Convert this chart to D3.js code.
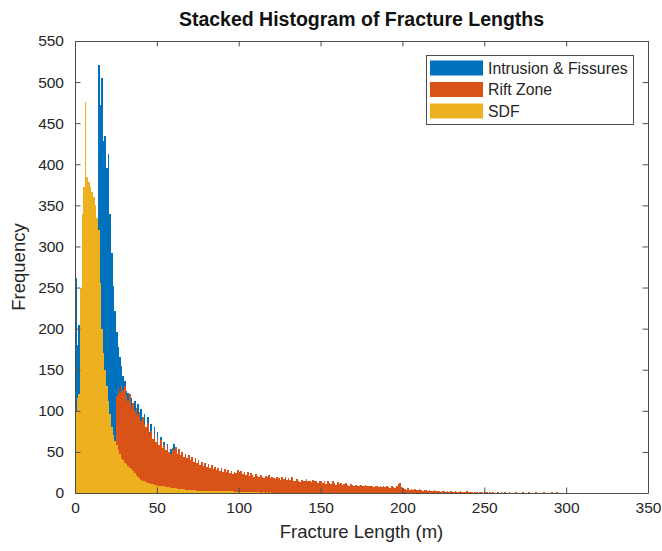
<!DOCTYPE html>
<html>
<head>
<meta charset="utf-8">
<script src="https://cdn.jsdelivr.net/npm/d3@7"></script>
<style>
  html, body { margin: 0; padding: 0; background: #fff; }
  svg { display: block; font-family: "Liberation Sans", Arial, Helvetica, sans-serif; }
</style>
</head>
<body>
<svg id="chart" width="662" height="551"></svg>
<script>
// Fracture length histograms, 1 m bins starting at 0 m
const binWidth = 1;

const seriesNames = ["Intrusion & Fissures", "Rift Zone", "SDF"];
const seriesColors = ["#0072BD", "#D95319", "#EDB120"];

// Intrusion & Fissures counts per bin
const intrusionCounts = [
  262, 180, 205, 150, 180, 210, 240, 270, 290, 300,
  310, 320, 325, 328, 521, 472, 505, 428, 435, 395,
  412, 340, 292, 252, 222, 196, 178, 165, 155, 142,
  136, 124, 122, 110, 116, 102, 112, 96, 108, 92,
  102, 86, 96, 80, 92, 74, 84, 66, 80, 60,
  74, 54, 68, 50, 62, 45, 60, 40, 54, 38,
  60, 35, 42, 30, 40, 28, 34, 25, 30, 22,
  28, 20, 24, 18, 21, 16, 22, 14, 18, 12,
  16, 10, 14, 9, 12, 8, 11, 7, 10, 6,
  9, 6, 8, 5, 7, 5, 6, 4, 5, 4,
  5, 3, 4, 3, 4, 3, 3, 2, 3, 2,
  3, 2, 2, 2, 3, 2, 2, 1, 2, 1,
  2, 1, 1, 1, 2, 1, 1, 0, 1, 1,
  1, 0, 1, 0, 1, 0, 0, 1, 0, 1
];

// Rift Zone counts per bin
const riftCounts = [
  4, 6, 8, 10, 12, 15, 17, 20, 22, 25,
  27, 30, 32, 35, 37, 40, 42, 45, 47, 50,
  52, 54, 56, 58, 60, 118, 128, 122, 132, 125,
  130, 118, 112, 120, 105, 110, 100, 104, 95, 98,
  88, 92, 84, 80, 85, 72, 76, 66, 72, 62,
  66, 58, 64, 55, 58, 52, 56, 50, 48, 55,
  52, 56, 48, 54, 46, 50, 44, 48, 42, 46,
  40, 44, 38, 42, 36, 40, 34, 38, 33, 36,
  32, 35, 30, 34, 29, 32, 28, 31, 27, 30,
  26, 29, 25, 28, 24, 27, 23, 26, 24, 28,
  25, 27, 23, 26, 22, 25, 21, 24, 22, 20,
  23, 21, 19, 22, 20, 18, 21, 19, 22, 18,
  20, 18, 17, 20, 18, 16, 19, 17, 20, 16,
  18, 16, 19, 15, 14, 17, 15, 13, 16, 14,
  15, 17, 14, 15, 13, 16, 14, 15, 12, 14,
  15, 12, 14, 11, 15, 12, 11, 14, 12, 10,
  13, 11, 12, 10, 11, 12, 10, 9, 11, 10,
  9, 10, 9, 8, 10, 9, 8, 10, 9, 8,
  9, 8, 7, 9, 8, 7, 8, 7, 9, 7,
  8, 7, 6, 8, 7, 6, 8, 11, 12, 7,
  6, 5, 4, 6, 4, 5, 4, 5, 4, 4,
  5, 4, 3, 4, 4, 3, 4, 3, 3, 4,
  2, 2, 2, 1, 2, 2, 1, 2, 1, 2,
  1, 1, 2, 1, 1, 2, 1, 1, 1, 2,
  1, 1, 1, 0, 1, 1, 0, 1, 1, 0,
  1, 1, 0, 1, 0, 1, 0, 0, 1, 0,
  1, 0, 1, 0, 0, 1, 0, 0, 0, 1,
  0, 0, 0, 1, 0, 0, 0, 1, 0, 0,
  0, 1, 0, 0, 0, 0, 1, 0, 0, 0,
  0, 1, 0, 0, 1, 0
];

// SDF counts per bin
const sdfCounts = [
  100, 115, 120, 250, 340, 372, 476, 385, 378, 372,
  366, 360, 350, 335, 320, 255, 200, 170, 150, 130,
  112, 96, 80, 70, 63, 58, 52, 47, 43, 40,
  37, 35, 33, 31, 29, 27, 24, 22, 20, 18,
  16, 15, 14, 13, 12, 12, 11, 11, 10, 10,
  9, 9, 8, 8, 8, 7, 7, 7, 6, 6,
  6, 6, 5, 5, 5, 5, 5, 4, 4, 4,
  4, 4, 4, 4, 3, 3, 3, 3, 3, 3,
  3, 3, 3, 3, 2, 2, 2, 2, 2, 2,
  2, 2, 2, 2, 2, 2, 2, 1, 1, 1,
  1, 1, 1, 1, 1, 1, 1, 1, 1, 1,
  1, 1, 1, 0, 1, 1, 0, 1, 0, 1
];

const seriesCounts = [intrusionCounts, riftCounts, sdfCounts];

const xTicks = [0, 50, 100, 150, 200, 250, 300, 350];
const yTicks = [0, 50, 100, 150, 200, 250, 300, 350, 400, 450, 500, 550];

const titleText = "Stacked Histogram of Fracture Lengths";
const xLabelText = "Fracture Length (m)";
const yLabelText = "Frequency";

// ---- layout ----
const svg = d3.select("#chart");
const plot = { left: 75, right: 648, top: 41, bottom: 493 };

const x = d3.scaleLinear().domain([0, 350]).range([plot.left, plot.right]);
const y = d3.scaleLinear().domain([0, 550]).range([plot.bottom, plot.top]);

const axisColor = "#4d4d4d";
const textColor = "#262626";
const tickLen = 5.5;

svg.append("rect")
  .attr("x", plot.left).attr("y", plot.top)
  .attr("width", plot.right - plot.left).attr("height", plot.bottom - plot.top)
  .attr("fill", "#fff");

// ---- bars: series drawn in legend order, later series on top ----
const barLayer = svg.append("g").attr("shape-rendering", "crispEdges");
seriesCounts.forEach((counts, si) => {
  barLayer.append("g")
    .attr("fill", seriesColors[si])
    .selectAll("rect")
    .data(counts.map((c, i) => ({ x0: i * binWidth, x1: (i + 1) * binWidth, c })).filter(d => d.c > 0))
    .join("rect")
    .attr("x", d => x(d.x0))
    .attr("width", d => x(d.x1) - x(d.x0))
    .attr("y", d => y(d.c))
    .attr("height", d => y(0) - y(d.c));
});

// ---- axes (box with inward ticks on all sides) ----
const axBottom = d3.axisBottom(x).tickValues(xTicks).tickSizeInner(-tickLen).tickSizeOuter(0).tickPadding(9);
const axTop = d3.axisTop(x).tickValues(xTicks).tickSizeInner(-tickLen).tickSizeOuter(0).tickFormat("");
const axLeft = d3.axisLeft(y).tickValues(yTicks).tickSizeInner(-tickLen).tickSizeOuter(0).tickPadding(11);
const axRight = d3.axisRight(y).tickValues(yTicks).tickSizeInner(-tickLen).tickSizeOuter(0).tickFormat("");

function styleAxis(g) {
  g.select(".domain").attr("stroke", axisColor).attr("stroke-width", 1);
  g.selectAll(".tick line").attr("stroke", axisColor).attr("stroke-width", 1);
  g.selectAll(".tick text").attr("fill", textColor).attr("font-size", 15.5)
    .attr("font-family", "'Liberation Sans', Arial, sans-serif");
}

svg.append("g").attr("transform", `translate(0,${plot.bottom})`).call(axBottom).call(styleAxis);
svg.append("g").attr("transform", `translate(0,${plot.top})`).call(axTop).call(styleAxis);
svg.append("g").attr("transform", `translate(${plot.left},0)`).call(axLeft).call(styleAxis);
svg.append("g").attr("transform", `translate(${plot.right},0)`).call(axRight).call(styleAxis);

// ---- titles ----
svg.append("text")
  .attr("x", (plot.left + plot.right) / 2).attr("y", 26)
  .attr("text-anchor", "middle")
  .attr("font-size", 19.5).attr("font-weight", "bold")
  .attr("fill", "#111")
  .text(titleText);

svg.append("text")
  .attr("x", (plot.left + plot.right) / 2).attr("y", 538)
  .attr("text-anchor", "middle")
  .attr("font-size", 18.5)
  .attr("fill", textColor)
  .text(xLabelText);

svg.append("text")
  .attr("transform", `translate(25,${(plot.top + plot.bottom) / 2}) rotate(-90)`)
  .attr("text-anchor", "middle")
  .attr("font-size", 18.5)
  .attr("fill", textColor)
  .text(yLabelText);

// ---- legend ----
const legend = { x: 426, y: 55, w: 207, h: 69, rowH: 21.5 };
const lg = svg.append("g");
lg.append("rect")
  .attr("x", legend.x + 0.5).attr("y", legend.y + 0.5)
  .attr("width", legend.w).attr("height", legend.h)
  .attr("fill", "#fff").attr("stroke", axisColor).attr("stroke-width", 1);

seriesNames.forEach((name, i) => {
  const cy = legend.y + 13 + i * legend.rowH;
  lg.append("rect")
    .attr("x", legend.x + 4).attr("y", cy - 7.5)
    .attr("width", 53).attr("height", 15)
    .attr("fill", seriesColors[i]);
  lg.append("text")
    .attr("x", legend.x + 62).attr("y", cy + 5.5)
    .attr("font-size", 15.8)
    .attr("fill", textColor)
    .text(name);
});
</script>
</body>
</html>
